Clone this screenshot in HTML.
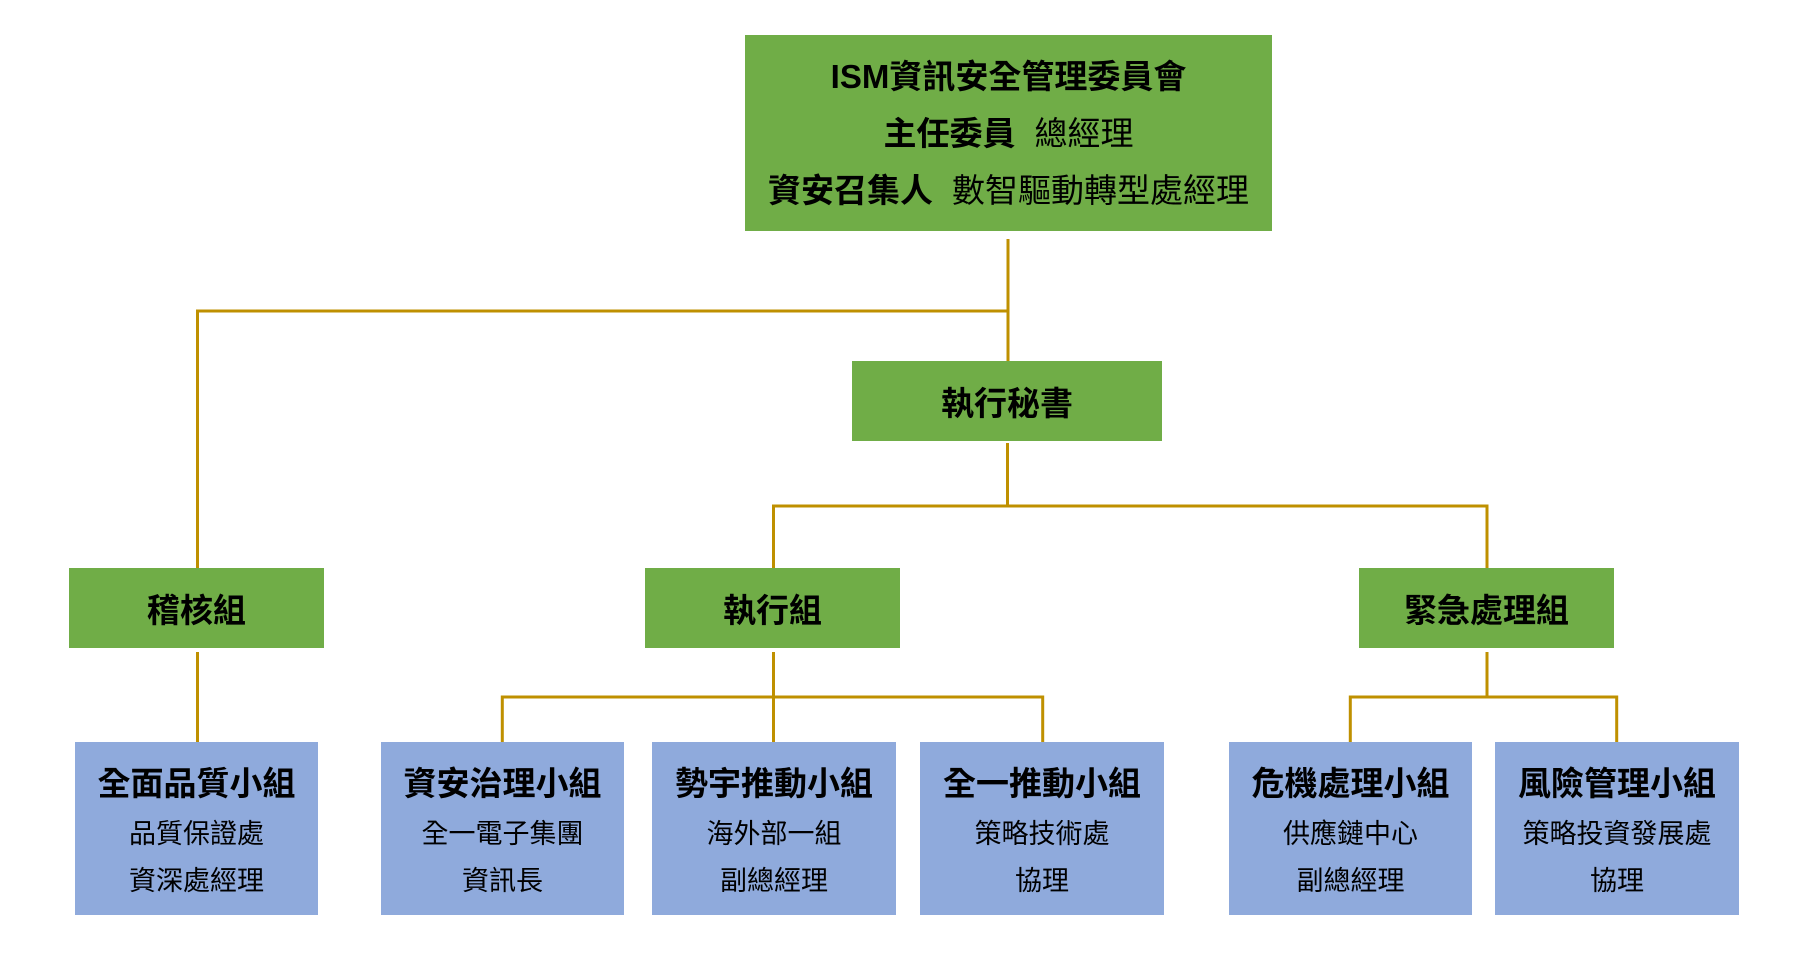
<!DOCTYPE html>
<html>
<head>
<meta charset="utf-8">
<style>
  html, body { margin:0; padding:0; background:#ffffff; }
  body { width:1798px; height:958px; position:relative; overflow:hidden;
         font-family: "Liberation Sans", "Noto Sans CJK TC", "Noto Sans CJK SC", sans-serif; color:#000; }
  .box { position:absolute; }
  .g { background:#70AD47; }
  .b { background:#8FAADC; }
  .ttl { position:absolute; left:0; right:0; top:0; bottom:0; display:flex; align-items:center; justify-content:center;
         font-size:33px; font-weight:bold; white-space:nowrap; }
  .ln { position:absolute; left:0; width:100%; text-align:center; white-space:nowrap; height:40px; line-height:40px; }
  .bold { font-weight:bold; font-size:33px; }
  .reg { font-weight:normal; font-size:33px; }
  .sub { font-weight:normal; font-size:27px; }
  .sp { display:inline-block; width:19px; }
  svg { position:absolute; left:0; top:0; }
</style>
</head>
<body>

<svg width="1798" height="958" viewBox="0 0 1798 958">
  <g stroke="#BF9000" stroke-width="3" fill="none">
    <!-- top to secretary -->
    <line x1="1008" y1="239" x2="1008" y2="361"/>
    <!-- to audit group -->
    <polyline points="1008,311 197.5,311 197.5,568"/>
    <!-- secretary down -->
    <line x1="1007.5" y1="443" x2="1007.5" y2="506"/>
    <polyline points="773.5,568 773.5,506 1487,506 1487,568"/>
    <!-- audit to its subgroup -->
    <line x1="197.5" y1="652" x2="197.5" y2="742"/>
    <!-- exec group -->
    <line x1="773.5" y1="652" x2="773.5" y2="742"/>
    <polyline points="502.3,742 502.3,697 1042.7,697 1042.7,742"/>
    <!-- emergency group -->
    <line x1="1487" y1="652" x2="1487" y2="697"/>
    <polyline points="1350.3,742 1350.3,697 1616.7,697 1616.7,742"/>
  </g>
</svg>

<!-- Top committee -->
<div class="box g" style="left:745px; top:35px; width:527px; height:196px;">
  <div class="ln bold" style="top:22px;">ISM資訊安全管理委員會</div>
  <div class="ln" style="top:79px;"><span class="bold">主任委員</span><span class="sp"></span><span class="reg">總經理</span></div>
  <div class="ln" style="top:136px;"><span class="bold">資安召集人</span><span class="sp"></span><span class="reg">數智驅動轉型處經理</span></div>
</div>

<!-- Secretary -->
<div class="box g" style="left:852px; top:361px; width:310px; height:80px;">
  <div class="ttl">執行秘書</div>
</div>

<!-- Level 2 green boxes -->
<div class="box g" style="left:69px; top:568px; width:255px; height:80px;">
  <div class="ttl">稽核組</div>
</div>
<div class="box g" style="left:645px; top:568px; width:255px; height:80px;">
  <div class="ttl">執行組</div>
</div>
<div class="box g" style="left:1359px; top:568px; width:255px; height:80px;">
  <div class="ttl">緊急處理組</div>
</div>

<!-- Blue boxes -->
<div class="box b" style="left:75px; top:742px; width:243px; height:173px;">
  <div class="ln bold" style="top:22px;">全面品質小組</div>
  <div class="ln sub" style="top:72px;">品質保證處</div>
  <div class="ln sub" style="top:119px;">資深處經理</div>
</div>
<div class="box b" style="left:381px; top:742px; width:243px; height:173px;">
  <div class="ln bold" style="top:22px;">資安治理小組</div>
  <div class="ln sub" style="top:72px;">全一電子集團</div>
  <div class="ln sub" style="top:119px;">資訊長</div>
</div>
<div class="box b" style="left:652px; top:742px; width:244px; height:173px;">
  <div class="ln bold" style="top:22px;">勢宇推動小組</div>
  <div class="ln sub" style="top:72px;">海外部一組</div>
  <div class="ln sub" style="top:119px;">副總經理</div>
</div>
<div class="box b" style="left:920px; top:742px; width:244px; height:173px;">
  <div class="ln bold" style="top:22px;">全一推動小組</div>
  <div class="ln sub" style="top:72px;">策略技術處</div>
  <div class="ln sub" style="top:119px;">協理</div>
</div>
<div class="box b" style="left:1229px; top:742px; width:243px; height:173px;">
  <div class="ln bold" style="top:22px;">危機處理小組</div>
  <div class="ln sub" style="top:72px;">供應鏈中心</div>
  <div class="ln sub" style="top:119px;">副總經理</div>
</div>
<div class="box b" style="left:1495px; top:742px; width:244px; height:173px;">
  <div class="ln bold" style="top:22px;">風險管理小組</div>
  <div class="ln sub" style="top:72px;">策略投資發展處</div>
  <div class="ln sub" style="top:119px;">協理</div>
</div>

</body>
</html>
